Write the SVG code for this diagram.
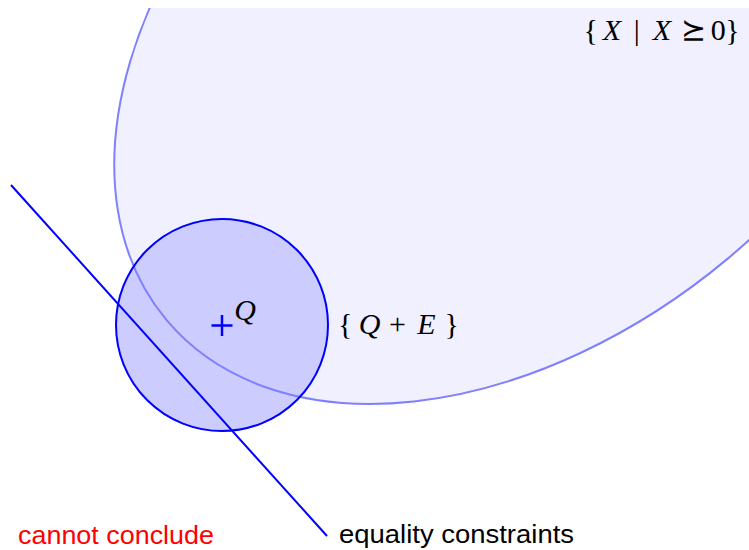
<svg xmlns="http://www.w3.org/2000/svg" width="749" height="550" viewBox="0 0 749 550">
<style>
.math{font-family:"Liberation Serif","DejaVu Serif",serif;font-size:30px;fill:#000}
.it{font-style:italic}
.sans{font-family:"Liberation Sans","DejaVu Sans",sans-serif;font-size:26px}
</style>
<defs>
<clipPath id="clip"><rect x="0" y="8" width="749" height="542"/></clipPath>
</defs>
<rect width="749" height="550" fill="#fff"/>
<g id="psd-cone" clip-path="url(#clip)">
<ellipse id="cone-fill" cx="527" cy="18.5" rx="470" ry="313" transform="rotate(-39.9 527 18.5)" fill="#f0f0ff"/>
</g>
<g id="ball">
<circle id="ball-fill" cx="222" cy="325" r="106" fill="#ccccff"/>
</g>
<g id="psd-cone-edge" clip-path="url(#clip)">
<ellipse cx="527" cy="18.5" rx="470" ry="313" transform="rotate(-39.9 527 18.5)" fill="none" stroke="#8080ff" stroke-width="2"/>
</g>
<g id="ball-edge">
<circle cx="222" cy="325" r="106" fill="none" stroke="#0000ff" stroke-width="2"/>
</g>
<g id="connectors">
<line id="equality-line" x1="11" y1="185" x2="327" y2="536" stroke="#0000ff" stroke-width="2"/>
</g>
<g id="center-Q">
<path d="M211.5 325.5H232.5M222 315V336" stroke="#0000ff" stroke-width="2.5" fill="none"/>
<text class="math it" x="245" y="320" text-anchor="middle">Q</text>
</g>
<g id="label-psd">
<text class="math" y="40" text-anchor="middle"><tspan x="590.8">{</tspan><tspan x="612" class="it">X</tspan><tspan x="636.7">|</tspan><tspan x="662" class="it">X</tspan><tspan x="693.3">⪰</tspan><tspan x="718.3">0</tspan><tspan x="732.5">}</tspan></text>
</g>
<g id="label-ball">
<text class="math" y="334" text-anchor="middle"><tspan x="345.3">{</tspan><tspan x="369.5" class="it">Q</tspan><tspan x="397.5">+</tspan><tspan x="426.5" class="it">E</tspan><tspan x="451.7">}</tspan></text>
</g>
<g id="label-cannot">
<text class="sans" x="18" y="544" fill="#ff0000" textLength="196" lengthAdjust="spacingAndGlyphs">cannot conclude</text>
</g>
<g id="label-equality">
<text class="sans" x="339" y="543" fill="#000" textLength="235" lengthAdjust="spacingAndGlyphs">equality constraints</text>
</g>
</svg>
